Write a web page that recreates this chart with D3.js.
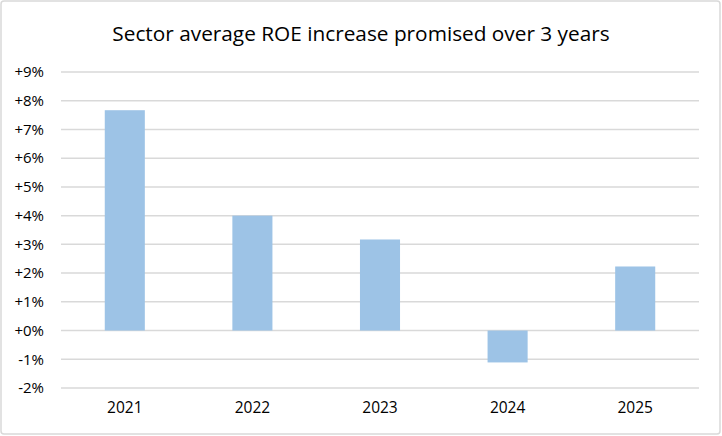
<!DOCTYPE html>
<html><head><meta charset="utf-8">
<script src="https://cdn.jsdelivr.net/npm/d3@7"></script>
<style>html,body{margin:0;padding:0;background:#fff;}svg{display:block;}</style>
</head><body>
<svg id="c" width="722" height="436"></svg>
<script>
const categories = ["2021","2022","2023","2024","2025"];
const values = [7.67, 4.0, 3.17, -1.11, 2.23];
const yTicks = [-2,-1,0,1,2,3,4,5,6,7,8,9];
const title = "Sector average ROE increase promised over 3 years";

const svg = d3.select("#c");
svg.append("rect").attr("x",1).attr("y",1).attr("width",719).attr("height",433)
  .attr("rx",3).attr("fill","#fff").attr("stroke","#d9d9d9").attr("stroke-width",1.5);

svg.append("text").attr("x",361).attr("y",41).attr("text-anchor","middle")
  .attr("font-family","'Open Sans', 'Liberation Sans', sans-serif").attr("font-size",20.8)
  .attr("fill","#000").text(title);

const x = d3.scaleBand().domain(categories).range([61,699]).paddingInner(0.686).paddingOuter(0.343);
const y = d3.scaleLinear().domain([-2,9]).range([388,72]);

const grid = svg.append("g");
grid.selectAll("line").data(yTicks).join("line")
  .attr("x1",61).attr("x2",699).attr("y1",d=>y(d)).attr("y2",d=>y(d))
  .attr("stroke","#d9d9d9").attr("stroke-width",1.5);

const yAxis = svg.append("g").attr("transform","translate(61,0)")
  .call(d3.axisLeft(y).tickValues(yTicks).tickSize(0).tickPadding(17)
    .tickFormat(d => (d>=0?"+":"") + d + "%"));
yAxis.select(".domain").remove();
yAxis.selectAll("text").attr("font-family","'Open Sans', 'Liberation Sans', sans-serif")
  .attr("font-size",15).attr("fill","#000");

svg.append("g").selectAll("rect").data(values).join("rect")
  .attr("x",(d,i)=>x(categories[i])).attr("width",x.bandwidth())
  .attr("y",d=>y(Math.max(0,d))).attr("height",d=>Math.abs(y(d)-y(0)))
  .attr("fill","#9dc3e6");

const xAxis = svg.append("g").attr("transform","translate(0,388)")
  .call(d3.axisBottom(x).tickSize(0).tickPadding(14));
xAxis.select(".domain").remove();
xAxis.selectAll("text").attr("font-family","'Open Sans', 'Liberation Sans', sans-serif")
  .attr("font-size",15.5).attr("fill","#000");
</script>
</body></html>
